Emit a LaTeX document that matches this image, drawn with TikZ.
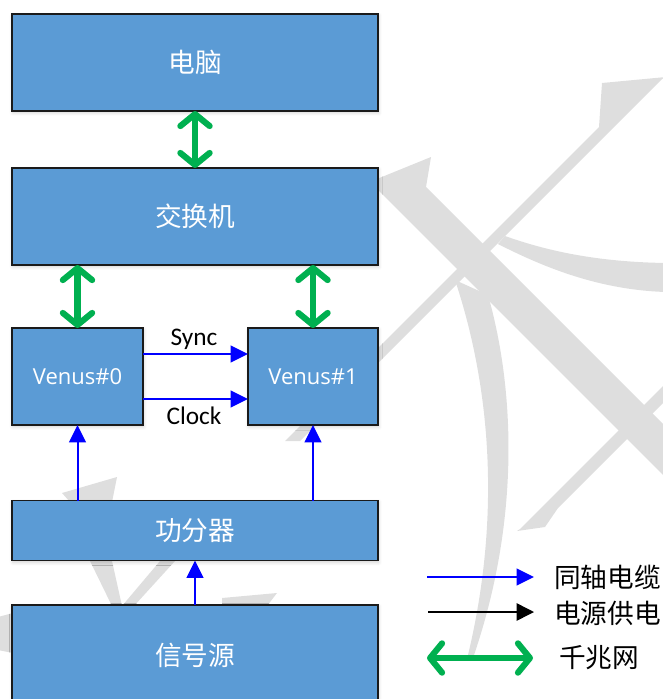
\documentclass[tikz,border=0pt]{standalone}
\usepackage{fontspec}
\setmainfont{Open Sans}
\newfontfamily\cjk{Noto Sans CJK SC}
\newfontfamily\calib{Carlito}
\usetikzlibrary{arrows.meta,shadows,shadows.blur}
\definecolor{boxblue}{HTML}{5B9BD5}
\definecolor{gnetc}{HTML}{00B050}
\definecolor{wmark}{HTML}{DEDEDE}
\definecolor{boxline}{HTML}{1A1A1A}
\newcommand\boxcjk{\cjk\fontsize{20pt}{24pt}\selectfont}
\newcommand\venusfont{\fontsize{16.5pt}{20pt}\selectfont}
\newcommand\legfont{\cjk\fontsize{20pt}{24pt}\selectfont}
\newcommand\synfont{\calib\fontsize{19pt}{23pt}\selectfont}
\tikzset{
  box/.style={draw=boxline, line width=1.1pt, fill=boxblue, text=white,
    inner sep=0pt, outer sep=0pt,
    blur shadow={shadow xshift=0.6pt, shadow yshift=-1.4pt, shadow opacity=18, shadow blur radius=2.5pt}},
  gnet/.style={draw=gnetc, line width=4.6pt, line cap=round,
    {Straight Barb[length=9pt,width=22pt,round]}-{Straight Barb[length=9pt,width=22pt,round]}},
  coax/.style={draw=blue, line width=1.5pt, -{Triangle[length=13pt,width=12.5pt]}},
  pwr/.style={draw=black, line width=1.1pt, -{Triangle[length=13pt,width=13pt]}},
  lbl/.style={inner sep=0pt, font=\synfont, text=black},
  leg/.style={inner sep=0pt, font=\legfont, text=black}
}
\begin{document}
\begin{tikzpicture}[x=0.75pt,y=-0.75pt]
\useasboundingbox (0,0) rectangle (662,699);
% watermark
\fill[wmark] (666,77) -- (602,83) -- (599,127) -- (285,441) -- (300,441) -- (662,79) -- cycle;
\fill[wmark] (372,181) -- (431,157) -- (426,187) -- (690,451) -- (690,502) -- (378,190) -- (372,185) -- cycle;
\fill[wmark] (680,369) -- (520,529) -- (517,531) -- (545,527) -- (558,508) -- (680,386) -- cycle;
\fill[wmark] (505,236) .. controls (550,252) and (600,262) .. (666,263) -- (666,292)
  .. controls (600,290) and (545,268) .. (498,244) -- cycle;
\fill[wmark] (455,280) .. controls (485,370) and (505,500) .. (468,655) -- (474,655)
  .. controls (520,520) and (515,390) .. (488,295) -- cycle;
\fill[wmark] (62,493) -- (117,477) -- (112,502) -- (70,502) -- cycle;
\fill[wmark] (90,561) -- (112,561) -- (122,606) -- (112,606) -- cycle;
\fill[wmark] (122,606) -- (160,561) -- (175,561) -- (134,606) -- cycle;
\fill[wmark] (222,598) -- (277,593) -- (267,606) -- (222,606) -- cycle;
\fill[wmark] (-2,617) -- (13,613) -- (13,653) -- (-2,650) -- cycle;
% boxes
\node[box, minimum width=274.5pt, minimum height=72.75pt, font=\boxcjk] (pc) at (195,62.5) {电脑};
\node[box, minimum width=274.5pt, minimum height=72.75pt, font=\boxcjk] (sw) at (195,216.5) {交换机};
\node[box, minimum width=98.25pt, minimum height=72.75pt, font=\venusfont] (v0) at (77.5,376.5) {Venus\#0};
\node[box, minimum width=97.5pt, minimum height=72.75pt, font=\venusfont] (v1) at (313,376.5) {Venus\#1};
\node[box, minimum width=274.5pt, minimum height=45pt, font=\boxcjk] (split) at (195,530.5) {功分器};
\node[box, minimum width=274.5pt, minimum height=75pt, font=\boxcjk] (src) at (195,655) {信号源};
% connectors
\draw[gnet] (pc) -- (sw);
\draw[gnet] (sw.south -| v0.north) -- (v0.north);
\draw[gnet] (sw.south -| v1.north) -- (v1.north);
\coordinate (syncy) at (0,354);
\coordinate (clocky) at (0,399);
\draw[coax] (v0.east |- syncy) -- (v1.west |- syncy);
\draw[coax] (v0.east |- clocky) -- (v1.west |- clocky);
\node[lbl, anchor=base] (synclbl) at (194,345) {Sync};
\node[lbl, anchor=base] (clocklbl) at (194,424) {Clock};
\draw[coax] (split.north -| v0.south) -- (v0.south);
\draw[coax] (split.north -| v1.south) -- (v1.south);
\draw[coax] (src.north) -- (split.south);
% legend
\coordinate (la1) at (427,577); \coordinate (lb1) at (534,577);
\coordinate (la2) at (428,612); \coordinate (lb2) at (534,612);
\coordinate (la3) at (427,658); \coordinate (lb3) at (533,658);
\draw[coax] (la1) -- (lb1);
\draw[pwr] (la2) -- (lb2);
\draw[gnet] (la3) -- (lb3);
\node[leg, anchor=west] (t1) at (554,577) {同轴电缆};
\node[leg, anchor=west] (t2) at (554,613) {电源供电};
\node[leg, anchor=west] (t3) at (559,658) {千兆网};
\end{tikzpicture}
\end{document}
